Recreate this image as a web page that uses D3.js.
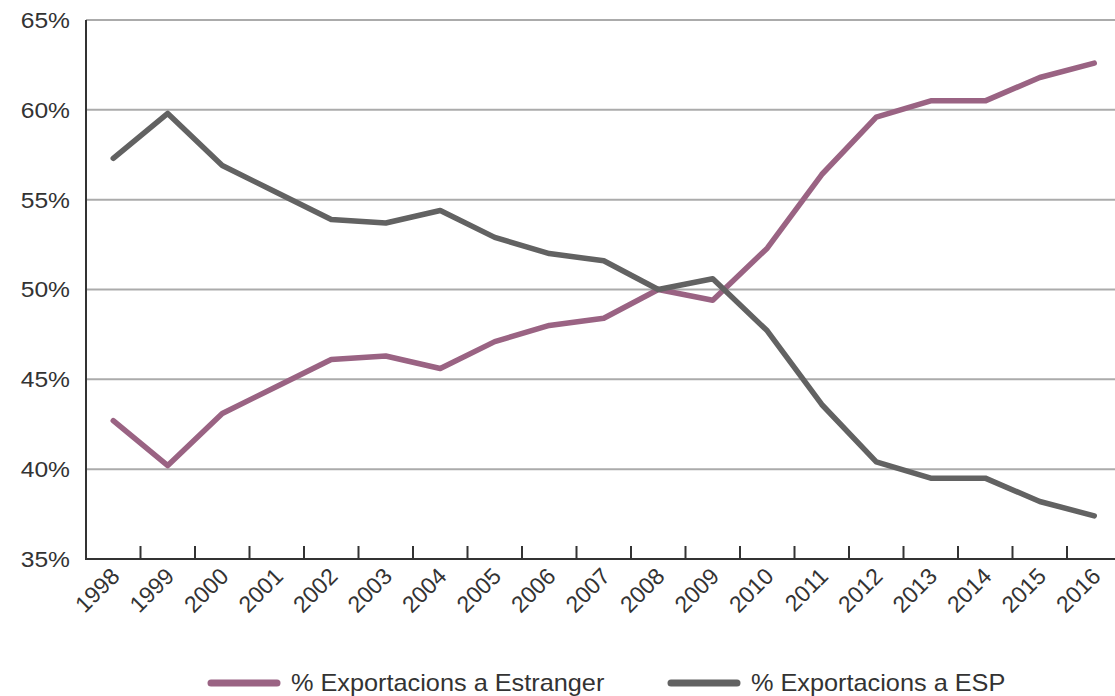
<!DOCTYPE html>
<html>
<head>
<meta charset="utf-8">
<script src="https://cdn.jsdelivr.net/npm/d3@7"></script>
<style>
	body { margin: 0; background: #fff; }
	text { font-family: "Liberation Sans", Arial, sans-serif; fill: #333; }
</style>
</head>
<body>
<div id="chart"></div>
<script>
var years = ["1998", "1999", "2000", "2001", "2002", "2003", "2004", "2005", "2006", "2007",
		"2008", "2009", "2010", "2011", "2012", "2013", "2014", "2015", "2016"],
	estranger = [42.7, 40.2, 43.1, 44.6, 46.1, 46.3, 45.6, 47.1, 48.0, 48.4,
		50.0, 49.4, 52.3, 56.4, 59.6, 60.5, 60.5, 61.8, 62.6],
	esp = [57.3, 59.8, 56.9, 55.4, 53.9, 53.7, 54.4, 52.9, 52.0, 51.6,
		50.0, 50.6, 47.7, 43.6, 40.4, 39.5, 39.5, 38.2, 37.4],
	yTicks = [35, 40, 45, 50, 55, 60, 65],
	seriesNames = ["% Exportacions a Estranger", "% Exportacions a ESP"],
	seriesColors = ["#9a6383", "#626262"];

(function() {
	"use strict";

	var chartWidth = 1115,
		chartHeight = 696,
		left = 86,
		top = 20,
		bottom = 559,
		bandW = 54.5,
		stretch = 1.12;

	var svg = d3.select("#chart")
		.append("svg")
		.attr("width", chartWidth)
		.attr("height", chartHeight);

	var x = d3.scaleBand()
		.domain(years)
		.range([left, left + bandW * years.length])
		.padding(0);
	var y = d3.scaleLinear()
		.domain([35, 65])
		.range([bottom, top]);

	// gridlines
	svg.append("g")
		.selectAll("line")
		.data(yTicks.filter(function(d) { return d > 35; }))
		.enter().append("line")
		.attr("x1", left)
		.attr("x2", chartWidth)
		.attr("y1", function(d) { return y(d); })
		.attr("y2", function(d) { return y(d); })
		.style("stroke", "#ababab")
		.style("stroke-width", 2);

	// y labels (source text is a bit wide, so stretch it)
	svg.append("g")
		.selectAll("text")
		.data(yTicks)
		.enter().append("text")
		.attr("transform", function(d) {
			return "translate(70," + y(d) + ") scale(" + stretch + ",1)";
		})
		.attr("text-anchor", "end")
		.attr("dy", "0.36em")
		.style("font-size", "22px")
		.text(function(d) { return d + "%"; });
	svg.append("line")
		.attr("x1", left).attr("x2", left)
		.attr("y1", top).attr("y2", bottom + 1)
		.style("stroke", "#333")
		.style("stroke-width", 2);

	// x axis
	svg.append("line")
		.attr("x1", left).attr("x2", chartWidth)
		.attr("y1", bottom).attr("y2", bottom)
		.style("stroke", "#333")
		.style("stroke-width", 2);
	svg.append("g")
		.selectAll("line")
		.data(years.slice(1))
		.enter().append("line")
		.attr("x1", function(d) { return x(d); })
		.attr("x2", function(d) { return x(d); })
		.attr("y1", bottom)
		.attr("y2", bottom - 13)
		.style("stroke", "#333")
		.style("stroke-width", 2);
	svg.append("g")
		.selectAll("text")
		.data(years)
		.enter().append("text")
		.attr("transform", function(d) {
			return "translate(" + (x(d) + x.bandwidth() / 2 - 4) + "," + (bottom + 7) + ") rotate(-45)";
		})
		.attr("text-anchor", "end")
		.attr("dy", "0.72em")
		.style("font-size", "23px")
		.text(function(d) { return d; });

	// lines
	var line = d3.line()
		.x(function(d, i) { return x(years[i]) + x.bandwidth() / 2; })
		.y(function(d) { return y(d); });

	[estranger, esp].forEach(function(values, k) {
		svg.append("path")
			.datum(values)
			.attr("d", line)
			.style("fill", "none")
			.style("stroke", seriesColors[k])
			.style("stroke-width", 5.5)
			.style("stroke-linejoin", "round")
			.style("stroke-linecap", "round");
	});

	// legend
	var legendX = [208, 668];
	var legend = svg.append("g")
		.selectAll("g")
		.data(seriesNames)
		.enter().append("g")
		.attr("transform", function(d, i) { return "translate(" + legendX[i] + ",683)"; });
	legend.append("line")
		.attr("x1", 3).attr("x2", 69)
		.attr("y1", 0).attr("y2", 0)
		.style("stroke", function(d, i) { return seriesColors[i]; })
		.style("stroke-width", 7)
		.style("stroke-linecap", "round");
	legend.append("text")
		.attr("transform", "translate(83,0) scale(1.1,1)")
		.attr("dy", "0.36em")
		.style("font-size", "23px")
		.text(function(d) { return d; });
})();
</script>
</body>
</html>
